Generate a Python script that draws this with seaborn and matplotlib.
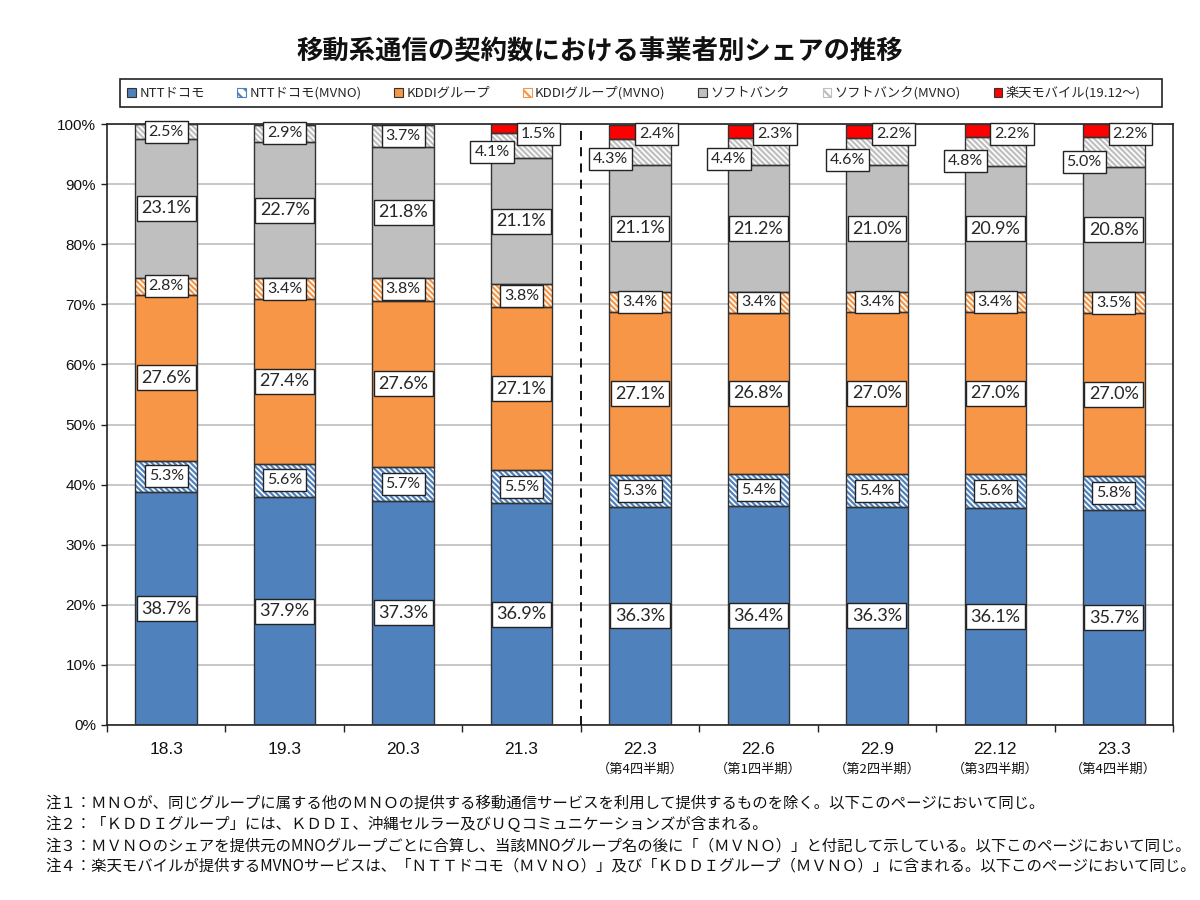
import matplotlib
matplotlib.use("Agg")
import matplotlib.pyplot as plt
import matplotlib.transforms as mtransforms
from matplotlib.patches import Patch, Rectangle
from matplotlib.ticker import MultipleLocator, FixedLocator, FuncFormatter
import numpy as np
import pandas as pd
import seaborn as sns

# ---------------- data ----------------
categories = ['18.3', '19.3', '20.3', '21.3', '22.3', '22.6', '22.9', '22.12', '23.3']
sub_labels = ['', '', '', '', '（第4四半期）', '（第1四半期）', '（第2四半期）', '（第3四半期）', '（第4四半期）']
ntt = [38.7, 37.9, 37.3, 36.9, 36.3, 36.4, 36.3, 36.1, 35.7]
ntt_mvno = [5.3, 5.6, 5.7, 5.5, 5.3, 5.4, 5.4, 5.6, 5.8]
kddi = [27.6, 27.4, 27.6, 27.1, 27.1, 26.8, 27.0, 27.0, 27.0]
kddi_mvno = [2.8, 3.4, 3.8, 3.8, 3.4, 3.4, 3.4, 3.4, 3.5]
softbank = [23.1, 22.7, 21.8, 21.1, 21.1, 21.2, 21.0, 20.9, 20.8]
softbank_mvno = [2.5, 2.9, 3.7, 4.1, 4.3, 4.4, 4.6, 4.8, 5.0]
rakuten = [0, 0, 0, 1.5, 2.4, 2.3, 2.2, 2.2, 2.2]

series_names = ['NTTドコモ', 'NTTドコモ(MVNO)', 'KDDIグループ', 'KDDIグループ(MVNO)',
                'ソフトバンク', 'ソフトバンク(MVNO)', '楽天モバイル(19.12～)']
series_values = [ntt, ntt_mvno, kddi, kddi_mvno, softbank, softbank_mvno, rakuten]

title = '移動系通信の契約数における事業者別シェアの推移'
notes = [
    '注１：ＭＮＯが、同じグループに属する他のＭＮＯの提供する移動通信サービスを利用して提供するものを除く。以下このページにおいて同じ。',
    '注２：「ＫＤＤＩグループ」には、ＫＤＤＩ、沖縄セルラー及びＵＱコミュニケーションズが含まれる。',
    '注３：ＭＶＮＯのシェアを提供元のMNOグループごとに合算し、当該MNOグループ名の後に「（ＭＶＮＯ）」と付記して示している。以下このページにおいて同じ。',
    '注４：楽天モバイルが提供するMVNOサービスは、「ＮＴＴドコモ（ＭＶＮＯ）」及び「ＫＤＤＩグループ（ＭＶＮＯ）」に含まれる。以下このページにおいて同じ。',
]

# ---------------- style ----------------
colors = ['#4F81BD', '#4F81BD', '#F79646', '#F79646', '#BFBFBF', '#BFBFBF', '#FF0000']
hatched = [False, True, False, True, False, True, False]
HATCH = '\\' * 6

sns.set_theme(style='white')
plt.rcParams['font.family'] = ['Liberation Sans', 'Noto Sans CJK JP', 'DejaVu Sans']
plt.rcParams['hatch.linewidth'] = 1.6
CJK = ['Noto Sans CJK JP', 'DejaVu Sans']

fig = plt.figure(figsize=(12, 9), dpi=100)
ax = fig.add_axes([107 / 1200, 1 - 725 / 900, (1173 - 107) / 1200, (725 - 124) / 900])

bar_w = 0.52
bottom = np.zeros(len(categories))
bottoms = []
for name, vals, col, hat in zip(series_names, series_values, colors, hatched):
    vals = np.array(vals, dtype=float)
    df = pd.DataFrame({'cat': categories, 'val': vals})
    if hat:
        sns.barplot(data=df, x='cat', y='val', ax=ax, width=bar_w, errorbar=None,
                    color=col, saturation=1,
                    bottom=bottom.copy(), facecolor='white', edgecolor=col,
                    hatch=HATCH, linewidth=0, zorder=2)
    else:
        sns.barplot(data=df, x='cat', y='val', ax=ax, width=bar_w, errorbar=None,
                    color=col, saturation=1,
                    bottom=bottom.copy(), facecolor=col, edgecolor='none',
                    linewidth=0, zorder=2)
    # outline
    sns.barplot(data=df, x='cat', y='val', ax=ax, width=bar_w, errorbar=None,
                color='#333333', saturation=1,
                bottom=bottom.copy(), facecolor='none', edgecolor='#333333',
                linewidth=1.0, zorder=3)
    bottoms.append(bottom.copy())
    bottom = bottom + vals

# ---------------- labels ----------------
big_font = dict(fontsize=13, family=['Lato', 'DejaVu Sans'])
small_font = dict(fontsize=11.5, family=['Lato', 'DejaVu Sans'])
box = dict(boxstyle='square,pad=0.25', fc='white', ec='#222222', lw=1)

for si, vals in enumerate(series_values):
    for i, v in enumerate(vals):
        if v <= 0:
            continue
        b = bottoms[si][i]
        x = i
        y = b + v / 2
        fnt = big_font if si in (0, 2, 4) else small_font
        if si == 5 and rakuten[i] > 0:
            x = i - 0.25
            y = b + 0.9
        if si == 6:
            x = i + 0.14
            y = 98.3
        ax.text(x, y, f'{v:.1f}%', ha='center', va='center', bbox=box, zorder=5, **fnt)

# ---------------- axes ----------------
ax.set_xlim(-0.5, len(categories) - 0.5)
ax.set_ylim(0, 100)
ax.yaxis.set_major_locator(MultipleLocator(10))
ax.yaxis.set_major_formatter(FuncFormatter(lambda v, p: f'{int(round(v))}%'))
ax.set_xlabel('')
ax.set_ylabel('')
ax.yaxis.grid(True, color='#BFBFBF', lw=1.2)
ax.xaxis.grid(False)
ax.set_axisbelow(True)
for s in ax.spines.values():
    s.set_visible(True)
    s.set_color('#222222')
    s.set_linewidth(1.2)

ax.tick_params(axis='y', which='major', left=True, length=4, width=1, color='#222222',
               labelsize=11, pad=4, labelcolor='#111111')
ax.tick_params(axis='x', which='major', bottom=True, length=0, labelsize=12.5, pad=12,
               labelcolor='#111111')
ax.xaxis.set_minor_locator(FixedLocator(np.arange(-0.5, len(categories), 1.0)))
ax.tick_params(axis='x', which='minor', bottom=True, length=5, width=1, color='#222222')
ax.set_xticks(range(len(categories)))
ax.set_xticklabels(categories)

trans = mtransforms.blended_transform_factory(ax.transData, ax.transAxes)
for i, s in enumerate(sub_labels):
    if s:
        ax.text(i, -0.073, s, transform=trans, ha='center', va='center',
                fontsize=9.5, family=CJK, color='#111111')

ax.axvline(3.5, color='black', lw=1.3, ls=(0, (5, 4)), zorder=4)

# ---------------- legend ----------------
handles = []
for name, col, hat in zip(series_names, colors, hatched):
    if hat:
        handles.append(Patch(facecolor='white', edgecolor=col, hatch='\\\\\\', lw=0.8, label=name))
    else:
        handles.append(Patch(facecolor=col, edgecolor='#333333', lw=0.8, label=name))
leg = ax.legend(handles=handles, loc='center left', bbox_to_anchor=(0.019, 1.0516),
                ncol=7, frameon=False, prop={'family': CJK, 'size': 9.5},
                handlelength=0.65, handleheight=0.65, handletextpad=0.25,
                columnspacing=2.5, borderaxespad=0, borderpad=0)
fig.patches.append(Rectangle((120 / 1200, 1 - 107 / 900), (1162 - 120) / 1200, 28 / 900,
                             transform=fig.transFigure, fill=False, ec='#222222', lw=1.2))

# ---------------- title & notes ----------------
fig.text(0.5, 1 - 52 / 900, title, ha='center', va='center', fontsize=19,
         fontweight='bold', family=CJK, color='#111111')
for k, (n, ypx) in enumerate(zip(notes, [803, 825, 846, 866])):
    fig.text(45 / 1200, 1 - ypx / 900, n, ha='left', va='center', fontsize=11.1,
             family=CJK, color='#111111')

fig.savefig('out.png', dpi=100, facecolor='white')
